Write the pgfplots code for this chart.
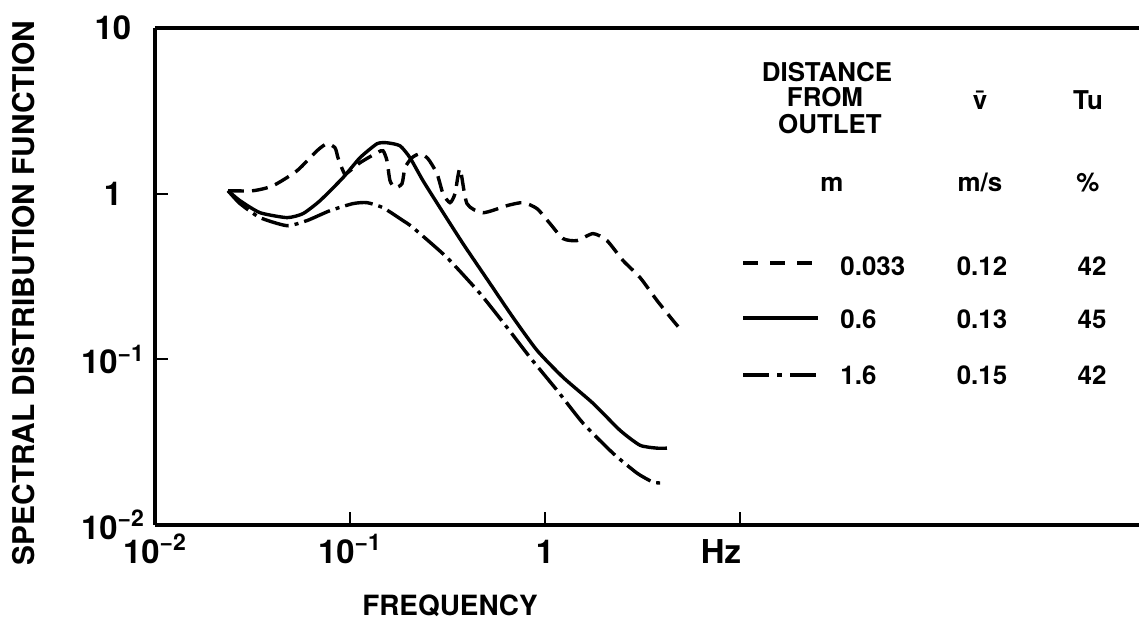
\documentclass[border=0pt]{standalone}
\usepackage{fontspec}
\setmainfont{TeX Gyre Heros}
\usepackage{pgfplots}
\pgfplotsset{compat=1.18}

\begin{document}
\begin{tikzpicture}
\begin{axis}[
  at={(0,0)}, anchor=south west,
  xmode=log, ymode=log,
  scale only axis, width=492bp, height=248.5bp,
  xmin=0.01, xmax=1112, ymin=0.01, ymax=10,
  axis x line*=box, axis y line*=left,
  axis line style={line width=1.8bp},
  tick pos=left, tick align=inside,
  major tick length=6.5bp,
  tick style={line width=1bp, black},
  minor tick style={draw=none},
  xtick={0.01,0.1,1,10},
  xticklabels={10\textsuperscript{−2},10\textsuperscript{−1},1,\makebox[0pt]{\kern-19bp Hz}},
  ytick={0.01,0.1,1,10},
  yticklabels={10\textsuperscript{−2},10\textsuperscript{−1},1,10},
  ticklabel style={font=\bfseries\fontsize{16.5}{18}\selectfont},
  xticklabel style={anchor=base, yshift=-19bp},
  yticklabel style={anchor=center, xshift=-21bp},
  clip=false,
]
% 0.033 m
\addplot[black, line width=1.7bp, dash pattern=on 8bp off 4bp, smooth, tension=0.4] coordinates {
  (0.02368,1.042) (0.03181,1.042) (0.04028,1.117) (0.05349,1.376)
  (0.06773,1.816) (0.07622,2.001) (0.08377,1.893) (0.08679,1.648)
  (0.09207,1.376) (0.09539,1.320) (0.1125,1.537) (0.1376,1.766)
  (0.1477,1.816) (0.1548,1.580) (0.1604,1.198) (0.1701,1.087)
  (0.1848,1.149) (0.1915,1.434) (0.2079,1.648) (0.2286,1.742)
  (0.2512,1.625) (0.2794,1.320) (0.2999,1.0) (0.3257,0.883)
  (0.3455,1.0) (0.3665,1.414) (0.3981,0.871) (0.4810,0.768)
  (0.6385,0.847) (0.7714,0.883) (0.9100,0.812) (1.061,0.660)
  (1.237,0.536) (1.459,0.521) (1.763,0.574) (2.079,0.521)
  (2.512,0.395) (3.070,0.312) (3.753,0.2266) (4.533,0.1717) (5.102,0.1454)
};
% 0.6 m
\addplot[black, line width=1.7bp, smooth, tension=0.35] coordinates {
  (0.02368,1.042) (0.02729,0.907) (0.03455,0.768) (0.04752,0.717)
  (0.05741,0.758) (0.07018,0.907) (0.09207,1.249) (0.1125,1.648)
  (0.1376,2.001) (0.1548,2.029) (0.1805,1.946) (0.2031,1.648)
  (0.2368,1.198) (0.2894,0.823) (0.3797,0.4998) (0.5224,0.2870)
  (0.6855,0.1791) (0.9100,0.1133) (1.237,0.0779) (1.763,0.0543)
  (2.424,0.0373) (3.070,0.0303) (3.753,0.0291) (4.222,0.0291)
};
% 1.6 m
\addplot[black, line width=1.7bp, dash pattern=on 14bp off 3bp on 2bp off 3bp, smooth, tension=0.35] coordinates {
  (0.02368,1.042) (0.02729,0.871) (0.03455,0.717) (0.04752,0.641)
  (0.06018,0.688) (0.07896,0.790) (0.1036,0.871) (0.1222,0.883)
  (0.1477,0.823) (0.1870,0.688) (0.2103,0.624) (0.3144,0.4115)
  (0.4642,0.2498) (0.6385,0.1559) (0.8377,0.1028) (1.152,0.0651)
  (1.566,0.0412) (2.233,0.0271) (2.964,0.02057) (3.579,0.01816) (4.028,0.01791)
};
\end{axis}

% axis titles
\node[rotate=90, font=\bfseries\fontsize{15}{17}\selectfont] at (-65.5bp,116bp) {SPECTRAL DISTRIBUTION FUNCTION};
\node[font=\bfseries\fontsize{14}{16}\selectfont] at (147.5bp,-40.5bp) {FREQUENCY};

% legend table
\begin{scope}[every node/.style={font=\bfseries\fontsize{13}{15}\selectfont, inner sep=0pt}]
  \node[anchor=base] at (336bp,221.5bp) {DISTANCE};
  \node[anchor=base] at (335bp,209bp) {FROM};
  \node[anchor=base] at (337.5bp,195.5bp) {OUTLET};
  \node[anchor=base] at (412.5bp,207.5bp) {\=v};
  \node[anchor=base] at (466.5bp,207.5bp) {Tu};
  \node[anchor=base] at (338.5bp,166.5bp) {m};
  \node[anchor=base] at (412.5bp,166.5bp) {m/s};
  \node[anchor=base] at (466.5bp,166.5bp) {\%};

  \draw[line width=1.6bp, dash pattern=on 7.5bp off 6bp] (294bp,131bp) -- (331.5bp,131bp);
  \node[anchor=base west] at (342.5bp,124.5bp) {0.033};
  \node[anchor=base] at (413.5bp,124.5bp) {0.12};
  \node[anchor=base] at (468.5bp,124.5bp) {42};

  \draw[line width=1.6bp] (294bp,103.5bp) -- (331.5bp,103.5bp);
  \node[anchor=base west] at (342.5bp,98bp) {0.6};
  \node[anchor=base] at (413.5bp,98bp) {0.13};
  \node[anchor=base] at (468.5bp,98bp) {45};

  \draw[line width=1.6bp, dash pattern=on 13bp off 4bp on 2.5bp off 4bp] (294bp,75bp) -- (331.5bp,75bp);
  \node[anchor=base west] at (342.5bp,70bp) {1.6};
  \node[anchor=base] at (413.5bp,70bp) {0.15};
  \node[anchor=base] at (468.5bp,70bp) {42};
\end{scope}

\pgfresetboundingbox
\useasboundingbox (-77.5bp,-47.5bp) rectangle (492.5bp,262.5bp);
\end{tikzpicture}
\end{document}
